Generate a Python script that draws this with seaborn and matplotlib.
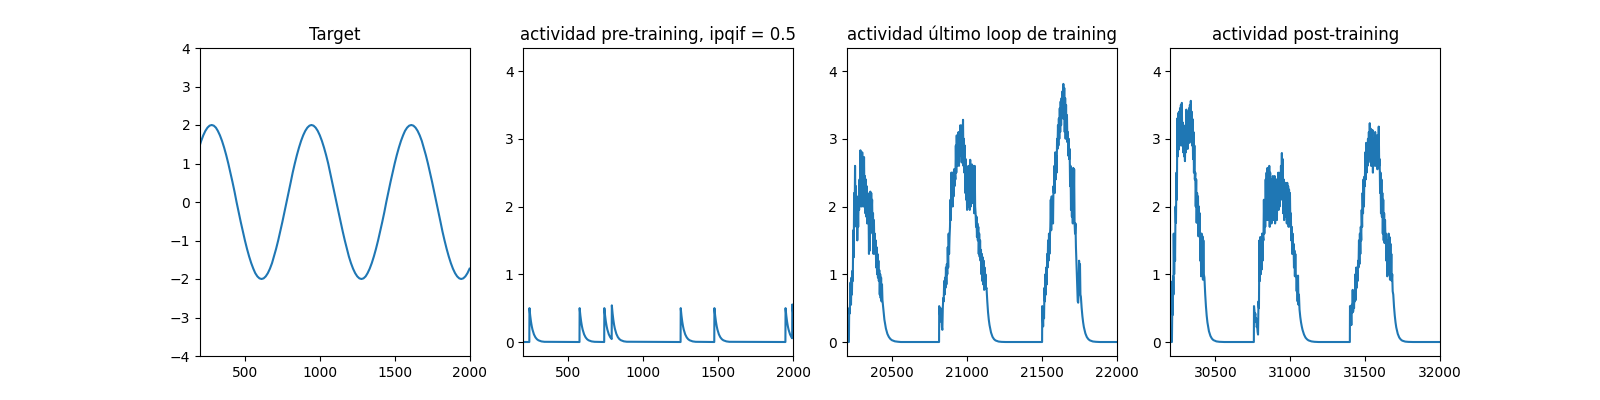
import numpy as np
import pandas as pd
import matplotlib
matplotlib.use("Agg")
import matplotlib.pyplot as plt
import seaborn as sns

# ---------------- data ----------------
titles = ["Target", "actividad pre-training, ipqif = 0.5",
          "actividad último loop de training", "actividad post-training"]

# Panel 1: target signal
target_t = [194, 208, 222, 236, 250, 264, 278, 292, 306, 319, 333, 347, 361, 375, 389, 403, 417, 431,
            444, 458, 472, 486, 500, 514, 528, 542, 556, 569, 583, 597, 611, 625, 639, 653, 667, 681,
            694, 708, 722, 736, 750, 764, 778, 792, 806, 819, 833, 847, 861, 875, 889, 903, 917, 931,
            944, 958, 972, 986, 1000, 1014, 1028, 1042, 1056, 1069, 1083, 1097, 1111, 1125, 1139, 1153, 1167, 1181,
            1194, 1208, 1222, 1236, 1250, 1264, 1278, 1292, 1306, 1319, 1333, 1347, 1361, 1375, 1389, 1403, 1417, 1431,
            1444, 1458, 1472, 1486, 1500, 1514, 1528, 1542, 1556, 1569, 1583, 1597, 1611, 1625, 1639, 1653, 1667, 1681,
            1694, 1708, 1722, 1736, 1750, 1764, 1778, 1792, 1806, 1819, 1833, 1847, 1861, 1875, 1889, 1903, 1917, 1931,
            1944, 1958, 1972, 1986, 2000]
target_y = [1.414, 1.587, 1.732, 1.848, 1.932, 1.983, 2.0, 1.983, 1.932, 1.848, 1.732, 1.587,
            1.414, 1.218, 1.0, 0.765, 0.518, 0.261, 0.0, -0.261, -0.518, -0.765, -1.0, -1.218,
            -1.414, -1.587, -1.732, -1.848, -1.932, -1.983, -2.0, -1.983, -1.932, -1.848, -1.732, -1.587,
            -1.414, -1.218, -1.0, -0.765, -0.518, -0.261, 0.0, 0.261, 0.518, 0.765, 1.0, 1.218,
            1.414, 1.587, 1.732, 1.848, 1.932, 1.983, 2.0, 1.983, 1.932, 1.848, 1.732, 1.587,
            1.414, 1.218, 1.0, 0.765, 0.518, 0.261, 0.0, -0.261, -0.518, -0.765, -1.0, -1.218,
            -1.414, -1.587, -1.732, -1.848, -1.932, -1.983, -2.0, -1.983, -1.932, -1.848, -1.732, -1.587,
            -1.414, -1.218, -1.0, -0.765, -0.518, -0.261, 0.0, 0.261, 0.518, 0.765, 1.0, 1.218,
            1.414, 1.587, 1.732, 1.848, 1.932, 1.983, 2.0, 1.983, 1.932, 1.848, 1.732, 1.587,
            1.414, 1.218, 1.0, 0.765, 0.518, 0.261, 0.0, -0.261, -0.518, -0.765, -1.0, -1.218,
            -1.414, -1.587, -1.732, -1.848, -1.932, -1.983, -2.0, -1.983, -1.932, -1.848, -1.732]

# Panel 2: pre-training activity (isolated spikes with decay)
pre_t = [0, 239, 240, 245, 250, 255, 260, 270, 280, 290, 300, 320, 340,
         574, 575, 580, 585, 590, 595, 605, 615, 625, 635, 655, 675,
         739, 740, 745, 750, 755, 760, 770, 780, 789, 790, 795, 800, 805, 810, 820, 830, 840,
         850, 870, 890,
         1249, 1250, 1255, 1260, 1265, 1270, 1280, 1290, 1300, 1310, 1330, 1350,
         1474, 1475, 1480, 1485, 1490, 1495, 1505, 1515, 1525, 1535, 1555, 1575,
         1949, 1950, 1955, 1960, 1965, 1970, 1980, 1990, 1994, 1995, 2000, 2010]
pre_y = [0.0, 0.0, 0.5, 0.389, 0.303, 0.236, 0.184, 0.112, 0.068, 0.041, 0.025, 0.009, 0.003,
         0.0, 0.5, 0.389, 0.303, 0.236, 0.184, 0.112, 0.068, 0.041, 0.025, 0.009, 0.003,
         0.0, 0.5, 0.389, 0.303, 0.236, 0.184, 0.112, 0.068, 0.044, 0.541, 0.421, 0.328, 0.255,
         0.199, 0.121, 0.073, 0.044, 0.027, 0.010, 0.004,
         0.0, 0.5, 0.389, 0.303, 0.236, 0.184, 0.112, 0.068, 0.041, 0.025, 0.009, 0.003,
         0.0, 0.5, 0.389, 0.303, 0.236, 0.184, 0.112, 0.068, 0.041, 0.025, 0.009, 0.003,
         0.0, 0.5, 0.389, 0.303, 0.236, 0.184, 0.112, 0.068, 0.055, 0.554, 0.43, 0.26]

# Panel 3: last training loop activity, (time, value) pairs per bump
train_bump1 = [(20200, 0.0), (20213, 0.0), (20215, 0.5), (20218, 0.42), (20221, 0.6), (20224, 0.88),
               (20227, 0.55), (20230, 0.95), (20233, 0.7), (20236, 1.05), (20239, 0.9), (20242, 1.65),
               (20245, 1.25), (20248, 2.2), (20251, 1.7), (20254, 2.6), (20257, 1.9), (20260, 2.3),
               (20263, 1.8), (20266, 2.15), (20269, 1.5), (20272, 2.0), (20275, 1.7), (20278, 2.1),
               (20281, 1.95), (20284, 2.4), (20287, 2.0), (20290, 2.83), (20293, 2.1), (20296, 2.75),
               (20299, 2.0), (20302, 2.8), (20305, 2.2), (20308, 2.6), (20311, 2.0), (20314, 2.73),
               (20317, 2.1), (20320, 2.45), (20323, 1.9), (20326, 2.4), (20329, 1.85), (20332, 2.3),
               (20335, 1.75), (20338, 2.1), (20341, 1.8), (20344, 2.05), (20347, 1.3), (20350, 2.2),
               (20353, 1.35), (20356, 2.22), (20359, 1.85), (20362, 2.2), (20365, 1.9), (20368, 2.1),
               (20371, 1.6), (20374, 1.9), (20377, 1.3), (20380, 1.8), (20383, 1.4), (20386, 1.6),
               (20389, 1.3), (20392, 1.5), (20395, 1.1), (20398, 1.4), (20401, 1.0), (20404, 1.3),
               (20407, 0.95), (20410, 1.2), (20413, 0.9), (20416, 1.06), (20419, 0.7), (20422, 1.0),
               (20425, 0.65), (20428, 0.95), (20431, 0.6), (20434, 0.85), (20437, 0.62), (20440, 0.55),
               (20445, 0.43), (20450, 0.33), (20455, 0.26), (20460, 0.2), (20470, 0.12), (20480, 0.074),
               (20490, 0.045), (20500, 0.027), (20520, 0.01), (20540, 0.004), (20560, 0.0)]
train_bump2 = [(20815, 0.0), (20816, 0.53), (20819, 0.45), (20822, 0.38), (20825, 0.5), (20828, 0.3),
               (20831, 0.45), (20834, 0.22), (20837, 0.18), (20840, 0.5), (20843, 0.65), (20846, 0.6),
               (20849, 0.9), (20852, 0.7), (20855, 0.95), (20858, 0.8), (20861, 1.1), (20864, 0.85),
               (20867, 1.15), (20870, 1.0), (20873, 1.4), (20876, 1.1), (20879, 1.6), (20882, 1.3),
               (20885, 1.55), (20888, 1.7), (20891, 2.1), (20894, 1.8), (20897, 2.5), (20900, 2.05),
               (20903, 2.5), (20906, 2.0), (20909, 2.45), (20912, 2.15), (20915, 2.55), (20918, 2.3),
               (20921, 2.5), (20924, 2.4), (20927, 2.9), (20930, 2.5), (20933, 3.05), (20936, 2.6),
               (20939, 3.0), (20942, 2.7), (20945, 3.1), (20948, 2.6), (20951, 3.05), (20954, 2.75),
               (20957, 3.2), (20960, 2.8), (20963, 3.1), (20966, 2.65), (20969, 3.2), (20972, 2.9),
               (20975, 3.28), (20978, 2.6), (20981, 3.0), (20984, 2.5), (20987, 2.9), (20990, 2.2),
               (20993, 2.7), (20996, 2.1), (20999, 2.5), (21002, 1.95), (21005, 2.4), (21008, 2.1),
               (21011, 2.6), (21014, 2.0), (21017, 2.5), (21020, 1.95), (21023, 2.69), (21026, 2.0),
               (21029, 2.55), (21032, 2.1), (21035, 2.62), (21038, 2.05), (21041, 2.6), (21044, 2.2),
               (21047, 2.58), (21050, 1.9), (21053, 2.6), (21056, 2.0), (21059, 1.9), (21062, 1.7),
               (21065, 1.85), (21068, 1.55), (21071, 1.75), (21074, 1.5), (21077, 1.7), (21080, 1.3),
               (21083, 1.6), (21086, 1.26), (21089, 1.5), (21092, 1.2), (21095, 1.36), (21098, 1.0),
               (21101, 1.3), (21104, 0.9), (21107, 1.25), (21110, 0.85), (21113, 1.2), (21116, 0.77),
               (21119, 1.1), (21122, 0.8), (21125, 1.0), (21128, 0.78), (21132, 0.8),
               (21137, 0.6), (21142, 0.44), (21147, 0.33), (21152, 0.25), (21162, 0.14), (21172, 0.076),
               (21182, 0.042), (21192, 0.023), (21212, 0.007), (21232, 0.002), (21260, 0.0)]
train_bump3 = [(21503, 0.0), (21504, 0.53), (21507, 0.4), (21510, 0.23), (21513, 0.5), (21516, 0.35),
               (21519, 0.8), (21522, 0.6), (21525, 1.0), (21528, 0.7), (21531, 1.1), (21534, 0.85),
               (21537, 1.3), (21540, 1.1), (21543, 1.5), (21546, 1.2), (21549, 1.6), (21552, 1.3),
               (21555, 1.55), (21558, 1.7), (21561, 2.1), (21564, 1.65), (21567, 2.15), (21570, 1.9),
               (21573, 2.1), (21576, 1.75), (21579, 2.3), (21582, 2.2), (21585, 2.6), (21588, 2.2),
               (21591, 2.8), (21594, 2.4), (21597, 2.75), (21600, 2.5), (21603, 3.0), (21606, 2.85),
               (21609, 3.2), (21612, 2.9), (21615, 3.3), (21618, 3.0), (21621, 3.45), (21624, 3.1),
               (21627, 3.55), (21630, 3.2), (21633, 3.6), (21636, 3.3), (21639, 3.7), (21642, 3.4),
               (21645, 3.81), (21648, 3.3), (21651, 3.75), (21654, 3.1), (21657, 3.6), (21660, 3.0),
               (21663, 3.5), (21666, 3.05), (21669, 3.35), (21672, 2.95), (21675, 3.1), (21678, 2.75),
               (21681, 3.0), (21684, 2.7), (21687, 2.85), (21690, 2.3), (21693, 2.6), (21696, 1.95),
               (21699, 2.4), (21702, 1.85), (21705, 2.2), (21708, 1.75), (21711, 2.57), (21714, 2.0),
               (21717, 2.55), (21720, 1.75), (21723, 1.6), (21726, 1.75), (21729, 1.4), (21732, 1.2),
               (21735, 1.0), (21738, 0.8), (21741, 0.6), (21744, 0.58), (21747, 0.75), (21750, 1.2),
               (21753, 0.8), (21756, 1.15), (21759, 0.7), (21762, 0.67),
               (21767, 0.507), (21772, 0.384), (21777, 0.291), (21782, 0.22), (21792, 0.127),
               (21802, 0.072), (21812, 0.042), (21822, 0.024), (21842, 0.008), (21862, 0.003),
               (21890, 0.0), (22100, 0.0)]

# Panel 4: post-training activity, (time, value) pairs per bump
post_bump1 = [(30200, 0.0), (30210, 0.0), (30212, 0.5), (30214, 0.9), (30216, 0.4), (30218, 0.97),
              (30220, 0.7), (30222, 1.6), (30225, 1.0), (30228, 1.5), (30231, 1.2), (30234, 2.0),
              (30237, 1.76), (30240, 2.5), (30243, 2.1), (30246, 3.3), (30249, 2.74), (30252, 3.38),
              (30255, 2.84), (30258, 3.4), (30261, 2.9), (30264, 3.45), (30267, 3.0), (30270, 3.5),
              (30273, 2.9), (30276, 3.53), (30279, 2.95), (30282, 3.24), (30285, 2.8), (30288, 3.2),
              (30291, 2.74), (30294, 3.0), (30297, 2.67), (30300, 3.1), (30303, 2.8), (30306, 3.43),
              (30309, 2.9), (30312, 3.3), (30315, 2.85), (30318, 3.4), (30321, 3.0), (30324, 3.45),
              (30327, 2.94), (30330, 3.5), (30333, 3.0), (30336, 3.56), (30339, 3.1), (30342, 3.4),
              (30345, 2.9), (30348, 3.29), (30351, 2.7), (30354, 3.1), (30357, 2.5), (30360, 2.9),
              (30363, 2.4), (30366, 2.5), (30369, 2.0), (30372, 2.4), (30375, 1.76), (30378, 2.2),
              (30381, 1.9), (30384, 2.15), (30387, 1.56), (30390, 2.0), (30393, 1.6), (30396, 1.9),
              (30399, 1.2), (30402, 1.6), (30405, 0.97), (30408, 1.6), (30411, 1.1), (30414, 1.56),
              (30417, 0.92), (30420, 1.5), (30423, 1.0), (30427, 0.95),
              (30432, 0.71), (30437, 0.53), (30442, 0.39), (30447, 0.29), (30457, 0.16), (30467, 0.09),
              (30477, 0.05), (30487, 0.028), (30507, 0.009), (30527, 0.003), (30560, 0.0)]
post_bump2 = [(30757, 0.0), (30758, 0.53), (30761, 0.45), (30764, 0.38), (30767, 0.42), (30770, 0.3),
              (30773, 0.35), (30776, 0.22), (30779, 0.25), (30782, 0.15), (30785, 0.11), (30788, 0.6),
              (30791, 0.5), (30794, 1.5), (30797, 0.9), (30800, 1.55), (30803, 1.0), (30806, 1.4),
              (30809, 1.07), (30812, 1.6), (30815, 1.2), (30818, 1.55), (30821, 1.5), (30824, 2.1),
              (30827, 1.6), (30830, 2.05), (30833, 1.7), (30836, 2.4), (30839, 1.8), (30842, 2.5),
              (30845, 1.9), (30848, 2.57), (30851, 1.8), (30854, 2.4), (30857, 2.0), (30860, 2.6),
              (30863, 1.7), (30866, 2.5), (30869, 1.9), (30872, 2.4), (30875, 1.75), (30878, 2.3),
              (30881, 1.9), (30884, 2.45), (30887, 1.8), (30890, 2.35), (30893, 2.0), (30896, 2.45),
              (30899, 1.75), (30902, 2.3), (30905, 1.9), (30908, 2.4), (30911, 1.8), (30914, 2.3),
              (30917, 2.0), (30920, 2.5), (30923, 1.95), (30926, 2.4), (30929, 2.0), (30932, 2.5),
              (30935, 2.1), (30938, 2.6), (30941, 2.2), (30944, 2.79), (30947, 2.1), (30950, 2.7),
              (30953, 1.9), (30956, 2.4), (30959, 1.8), (30962, 2.3), (30965, 1.85), (30968, 2.35),
              (30971, 1.9), (30974, 2.3), (30977, 1.75), (30980, 2.35), (30983, 1.8), (30986, 2.3),
              (30989, 1.7), (30992, 2.25), (30995, 1.75), (30998, 2.2), (31001, 1.7), (31004, 1.9),
              (31007, 1.5), (31010, 1.7), (31013, 1.3), (31016, 1.6), (31019, 1.35), (31022, 1.45),
              (31025, 1.1), (31028, 1.35), (31031, 0.97), (31034, 1.3), (31037, 1.0), (31040, 0.95),
              (31043, 0.75), (31046, 0.95), (31049, 0.6), (31052, 0.98), (31055, 0.55), (31058, 0.7),
              (31062, 0.48),
              (31067, 0.37), (31072, 0.29), (31077, 0.23), (31082, 0.18), (31092, 0.11), (31102, 0.065),
              (31112, 0.04), (31122, 0.024), (31142, 0.009), (31162, 0.003), (31190, 0.0)]
post_bump3 = [(31398, 0.0), (31399, 0.53), (31402, 0.3), (31405, 0.5), (31408, 0.25), (31411, 0.55),
              (31414, 0.43), (31417, 0.77), (31420, 0.45), (31423, 0.7), (31426, 0.5), (31429, 0.75),
              (31432, 0.6), (31435, 1.0), (31438, 0.62), (31441, 1.1), (31444, 0.8), (31447, 1.05),
              (31450, 0.9), (31453, 1.2), (31456, 1.1), (31459, 1.5), (31462, 1.15), (31465, 1.6),
              (31468, 1.3), (31471, 1.7), (31474, 1.5), (31477, 1.95), (31480, 1.7), (31483, 2.2),
              (31486, 1.9), (31489, 2.4), (31492, 2.0), (31495, 2.44), (31498, 2.3), (31501, 2.8),
              (31504, 2.4), (31507, 2.94), (31510, 2.5), (31513, 2.9), (31516, 2.6), (31519, 3.0),
              (31522, 2.65), (31525, 3.1), (31528, 2.7), (31531, 3.23), (31534, 2.75), (31537, 3.15),
              (31540, 2.6), (31543, 3.0), (31546, 2.7), (31549, 3.13), (31552, 2.5), (31555, 2.9),
              (31558, 2.6), (31561, 3.0), (31564, 2.7), (31567, 3.1), (31570, 2.6), (31573, 2.95),
              (31576, 2.65), (31579, 3.05), (31582, 2.55), (31585, 3.0), (31588, 2.7), (31591, 3.18),
              (31594, 2.6), (31597, 2.7), (31600, 2.2), (31603, 2.5), (31606, 1.9), (31609, 2.4),
              (31612, 1.85), (31615, 2.2), (31618, 1.6), (31621, 2.1), (31624, 1.5), (31627, 1.9),
              (31630, 1.46), (31633, 1.8), (31636, 1.5), (31639, 1.6), (31642, 1.2), (31645, 1.5),
              (31648, 0.97), (31651, 1.3), (31654, 1.1), (31657, 1.6), (31660, 1.0), (31663, 1.55),
              (31666, 0.92), (31669, 1.45), (31672, 0.95), (31675, 1.3), (31678, 0.9), (31681, 1.0),
              (31684, 0.75), (31688, 0.7),
              (31693, 0.52), (31698, 0.39), (31703, 0.29), (31708, 0.215), (31718, 0.12), (31728, 0.066),
              (31738, 0.037), (31748, 0.02), (31768, 0.006), (31788, 0.002), (31820, 0.0), (32100, 0.0)]

xlims = [(200, 2000), (200, 2000), (20200, 22000), (30200, 32000)]

# ---------------- build frames ----------------
def pairs_df(*segments):
    rows = [p for seg in segments for p in seg]
    return pd.DataFrame(rows, columns=["t", "v"])

frames = [
    pd.DataFrame({"t": target_t, "v": target_y}),
    pd.DataFrame({"t": pre_t, "v": pre_y}),
    pairs_df(train_bump1, train_bump2, train_bump3),
    pairs_df(post_bump1, post_bump2, post_bump3),
]

fig, axes = plt.subplots(1, 4, figsize=(16, 4), dpi=100)
for i, (ax, df) in enumerate(zip(axes, frames)):
    sns.lineplot(data=df, x="t", y="v", ax=ax, color="#1f77b4", linewidth=1.5,
                 estimator=None, sort=False)
    ax.set_xlim(*xlims[i])
    ax.set_title(titles[i], fontsize=12)
    ax.set_xlabel("")
    ax.set_ylabel("")

axes[0].set_ylim(-4, 4)
for ax in axes[1:]:
    ax.set_ylim(-0.2065, 4.34)
    ax.set_yticks([0, 1, 2, 3, 4])

fig.savefig("out.png", dpi=100)
